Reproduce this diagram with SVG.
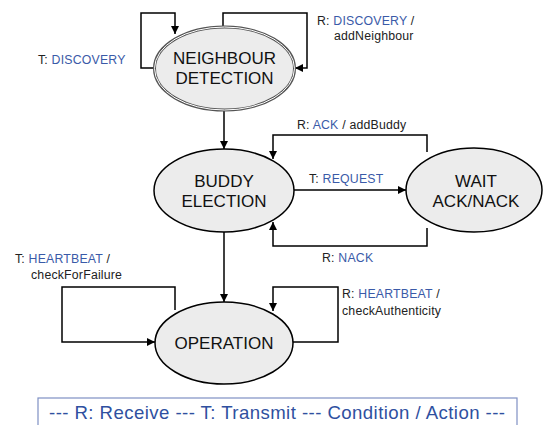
<svg xmlns="http://www.w3.org/2000/svg" width="543" height="425" viewBox="0 0 543 425">
<defs>
<marker id="arr" viewBox="0 0 10 10" refX="10" refY="5" markerWidth="8" markerHeight="8" markerUnits="userSpaceOnUse" orient="auto">
<path d="M0,0 L10,5 L0,10 z" fill="#000"/>
</marker>
</defs>
<style>
.node{fill:#ececec;stroke:#000;stroke-width:1.5}
.nt{font-family:"Liberation Sans",Arial,sans-serif;font-size:17px;fill:#111;text-anchor:middle}
.lbl{font-family:"Liberation Sans",Arial,sans-serif;font-size:12.3px;letter-spacing:0.2px;fill:#222}
.b{fill:#3a5aa8}
.c{fill:none;stroke:#000;stroke-width:1.5}
</style>
<rect width="543" height="425" fill="#fff"/>
<g id="connectors">
<path class="c" d="M155,68 H141 V13 H175 V34" marker-end="url(#arr)"/>
<path class="c" d="M223,27 V13 H307 V68 H295" marker-end="url(#arr)"/>
<path class="c" d="M224,110 V149" marker-end="url(#arr)"/>
<path class="c" d="M294,190 H406" marker-end="url(#arr)"/>
<path class="c" d="M427,152 V135 H273 V159" marker-end="url(#arr)"/>
<path class="c" d="M427,228 V246 H273 V222" marker-end="url(#arr)"/>
<path class="c" d="M224,232 V302" marker-end="url(#arr)"/>
<path class="c" d="M175,310 V287 H62 V342 H155" marker-end="url(#arr)"/>
<path class="c" d="M293,342 H338 V287 H273 V311" marker-end="url(#arr)"/>
</g>
<g id="neighbour-detection">
<ellipse cx="224.5" cy="68.5" rx="70" ry="41.5" fill="#ececec" stroke="#555" stroke-width="3"/>
<ellipse cx="224.5" cy="68.5" rx="70" ry="41.5" fill="none" stroke="#fff" stroke-width="1"/>
<text class="nt" x="224.5" y="64">NEIGHBOUR</text>
<text class="nt" x="224.5" y="84">DETECTION</text>
</g>
<g id="buddy-election">
<ellipse class="node" cx="224" cy="190.5" rx="70" ry="41.5"/>
<text class="nt" x="224" y="187">BUDDY</text>
<text class="nt" x="224" y="207">ELECTION</text>
</g>
<g id="wait-ack-nack">
<ellipse class="node" cx="474" cy="190" rx="68" ry="42"/>
<text class="nt" x="476" y="187">WAIT</text>
<text class="nt" x="476" y="207">ACK/NACK</text>
</g>
<g id="operation">
<ellipse class="node" cx="224" cy="343" rx="69" ry="41"/>
<text class="nt" x="224" y="349">OPERATION</text>
</g>
<g id="labels">
<text class="lbl" x="38" y="64">T: <tspan class="b">DISCOVERY</tspan></text>
<text class="lbl" x="317" y="25">R: <tspan class="b">DISCOVERY</tspan> /</text>
<text class="lbl" x="334" y="40">addNeighbour</text>
<text class="lbl" x="297" y="129">R: <tspan class="b">ACK</tspan> / addBuddy</text>
<text class="lbl" x="309" y="183">T: <tspan class="b">REQUEST</tspan></text>
<text class="lbl" x="322" y="262">R: <tspan class="b">NACK</tspan></text>
<text class="lbl" x="15" y="263">T: <tspan class="b">HEARTBEAT</tspan> /</text>
<text class="lbl" x="31" y="279">checkForFailure</text>
<text class="lbl" x="342" y="298">R: <tspan class="b">HEARTBEAT</tspan> /</text>
<text class="lbl" x="342" y="315">checkAuthenticity</text>
</g>
<g id="legend">
<rect x="38" y="398" width="479" height="32" fill="#fff" stroke="#7f90c4" stroke-width="1.2"/>
<text x="49" y="419" font-family="Liberation Sans,Arial,sans-serif" font-size="18.6" fill="#2f50a0" textLength="456" lengthAdjust="spacing">--- R: Receive --- T: Transmit --- Condition / Action ---</text>
</g>
</svg>
